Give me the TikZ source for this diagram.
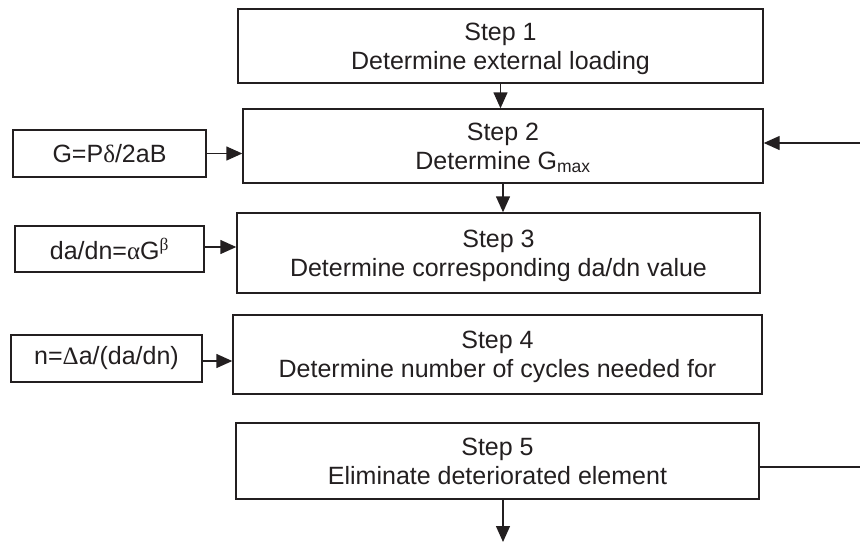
\documentclass[tikz,border=0pt]{standalone}
\usepackage{fontspec}
\setmainfont{Liberation Sans}
\newfontfamily\grk{Liberation Serif}
\usepackage{tikz}
\usetikzlibrary{positioning}
\usetikzlibrary{calc}
\usetikzlibrary{arrows.meta}

\definecolor{ink}{RGB}{35,31,32}
\tikzset{
	stepbox/.style={draw=ink, line width=1.4pt, align=center, inner sep=0pt, text=ink,
		text depth=0pt, font=\fontsize{25}{29}\selectfont},
	lawbox/.style={draw=ink, line width=1.4pt, inner sep=0pt, text=ink,
		minimum height=47pt, font=\fontsize{25}{29}\selectfont},
	flow/.style={draw=ink, line width=1.4pt, -{Triangle[length=16pt,width=14pt]}}
}

\begin{document}
\begin{tikzpicture}[x=1pt,y=-1pt]
	\useasboundingbox (0,0) rectangle (860,542);
	% main steps
	\node[stepbox, minimum width=525pt, minimum height=74pt] (s1) at (500.5,46) {Step 1\\Determine external loading};
	\node[stepbox, minimum width=520pt, minimum height=74pt] (s2) at (503,146) {Step 2\\Determine G\textsubscript{max}};
	\node[stepbox, minimum width=523pt, minimum height=80pt] (s3) at (498.5,253) {Step 3\\Determine corresponding da/dn value};
	\node[stepbox, minimum width=529pt, minimum height=79pt] (s4) at (497.5,354.5) {Step 4\\Determine number of cycles needed for};
	\node[stepbox, minimum width=523pt, minimum height=76pt] (s5) at (497.5,461) {Step 5\\Eliminate deteriorated element};
	% formulas on the left
	\node[lawbox, minimum width=193pt] (g) at (109.5,153.5) {G=P{\grk δ}/2aB};
	\node[lawbox, minimum width=189pt, minimum height=46pt] (rate) at (109.5,249) {da/dn={\grk α}G\textsuperscript{\grk β}};
	\node[lawbox, minimum width=191pt] (cyc) at (106.5,358.5) {n={\grk Δ}a/(da/dn)};
	\coordinate (back) at (860,143);
	\coordinate (out) at (860,467);
	\coordinate (done) at (503,542);

	\draw[flow] (s1) -- (s1.south |- s2.north);
	\draw[flow] (s2) -- (s2.south |- s3.north);
	\draw[flow] (g.east) -- (g.east -| s2.west);
	\draw[flow] ($(rate.east)+(0,-2)$) -- ($(rate.east -| s3.west)+(0,-2)$);
	\draw[flow] ($(cyc.east)+(0,2.5)$) -- ($(cyc.east -| s4.west)+(0,2.5)$);
	\draw[flow] (back) -- (back -| s2.east);
	\draw[draw=ink, line width=1.4pt] (s5.east |- out) -- (out);
	\draw[flow] (s5.south -| done) -- (done);
\end{tikzpicture}
\end{document}
